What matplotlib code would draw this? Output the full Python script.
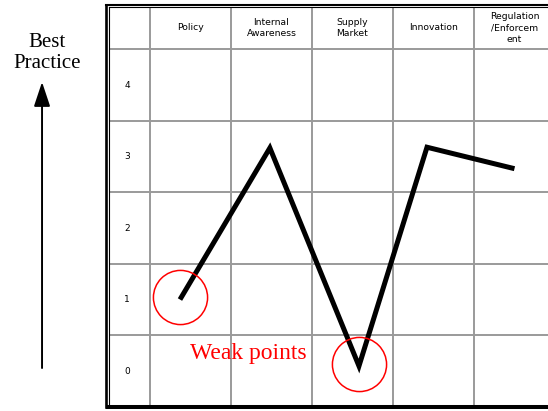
import matplotlib.pyplot as plt
import numpy as np

# data
categories = ['Policy', 'Internal\nAwareness', 'Supply\nMarket', 'Innovation',
              'Regulation\n/Enforcem\nent']
levels = [0, 1, 2, 3, 4]
# where each point sits across its column (column index units) and its score
point_x = [-0.13, 0.98, 2.08, 2.92, 4.0]
scores = [1.0, 3.12, 0.07, 3.13, 2.83]
weak_idx = [0, 2]

fig = plt.figure(figsize=(5.48, 4.11), dpi=100)
ax = fig.add_axes([0, 0, 1, 1])
ax.axis('off')
# one column = 81 px, one level = 71.5 px
ax.set_xlim(-2.352, 4.414)
ax.set_ylim(-0.559, 5.189)

grey = '#9a9a9a'
left_in, top_in = -1.006, 5.091
left_out, top_out = -1.043, 5.126
bottom = -0.51
right = 4.414

# grey grid
for i in range(len(categories)):
    ax.plot([i - 0.5, i - 0.5], [bottom, top_in], color=grey, lw=1.4, solid_capstyle='butt')
for lv in levels:
    ax.plot([left_in, right], [lv + 0.5, lv + 0.5], color=grey, lw=1.4, solid_capstyle='butt')

# double border
ax.plot([left_out, left_out], [bottom, top_out], color='black', lw=1.9, solid_capstyle='projecting')
ax.plot([left_out, right], [top_out, top_out], color='black', lw=1.5, solid_capstyle='projecting')
ax.plot([left_in, left_in], [-0.46, top_in], color='black', lw=0.8)
ax.plot([left_in, right], [top_in, top_in], color='black', lw=0.8)
ax.plot([left_out, right], [bottom, bottom], color='black', lw=2.9, solid_capstyle='butt')

# header and level labels
for i, c in enumerate(categories):
    ax.text(i, 4.8, c, ha='center', va='center', fontsize=6.7,
            family='DejaVu Sans', linespacing=1.35)
for lv in levels:
    ax.text(-0.784, lv, str(lv), ha='center', va='center', fontsize=6.5,
            family='DejaVu Sans')

# the profile line
ax.plot(point_x, scores, color='black', lw=3.6,
        solid_joinstyle='miter', solid_capstyle='butt')

# weak points
ax.plot([point_x[i] for i in weak_idx], [scores[i] + 0.03 for i in weak_idx],
        'o', ms=39, mfc='none', mec='red', mew=1.1)
ax.text(0.72, 0.24, 'Weak points', color='red', fontsize=17,
        family='Liberation Serif', ha='center', va='center')

# best practice arrow
ax.text(-1.772, 4.45, 'Best\nPractice', ha='center', va='center', fontsize=15,
        family='Liberation Serif', linespacing=1.15)
ax.annotate('', xy=(-1.833, 4.042), xytext=(-1.833, 0.042),
            arrowprops=dict(arrowstyle='-|>,head_length=1.5,head_width=0.5',
                            color='black', lw=1.4, shrinkA=0, shrinkB=0))

fig.savefig('out.png', dpi=100)
